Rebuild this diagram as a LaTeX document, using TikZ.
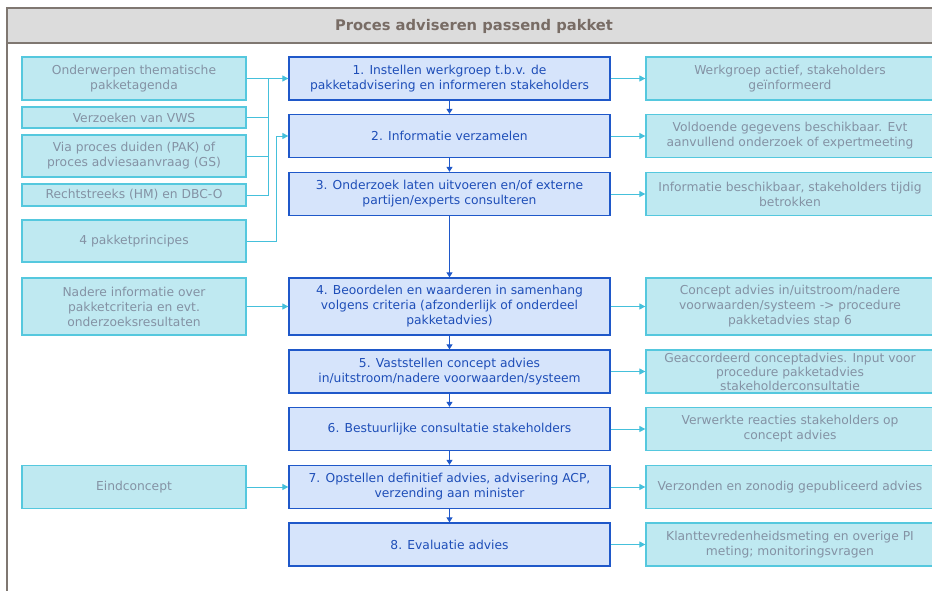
\documentclass[tikz,border=0pt]{standalone}
\usepackage{fontspec}
\setmainfont{DejaVu Sans}
\usetikzlibrary{arrows.meta, positioning}
\definecolor{stapvul}{HTML}{D6E4FB}
\definecolor{staprand}{HTML}{1F58C9}
\definecolor{staptekst}{HTML}{1E4EB8}
\definecolor{zijvul}{HTML}{BFE9F1}
\definecolor{zijrand}{HTML}{55C8DE}
\definecolor{zijtekst}{HTML}{8492A4}
\definecolor{zijpijl}{HTML}{45C0DB}
\definecolor{kopvul}{HTML}{DCDCDC}
\definecolor{koprand}{HTML}{7F7771}
\definecolor{koptekst}{HTML}{786C65}
\tikzset{
  tekst/.style={font=\fontsize{12.3}{15}\selectfont},
  stap/.style={tekst, draw=staprand, fill=stapvul, text=staptekst, line width=1.3pt,
    minimum width=321pt, minimum height=43pt, inner sep=1pt, align=center},
  bron/.style={tekst, draw=zijrand, fill=zijvul, text=zijtekst, line width=1.3pt,
    minimum width=224pt, minimum height=43pt, inner sep=1pt, align=center},
  uit/.style={bron, minimum width=288pt},
  lijn/.style={draw=zijpijl, line width=1pt},
  pijl/.style={lijn, arrows={-Triangle[length=6pt,width=6pt]}},
  stappijl/.style={draw=staprand, line width=1pt, arrows={-Triangle[length=5pt,width=6pt]}}
}
\begin{document}
\begin{tikzpicture}[x=1pt, y=-1pt]
  \useasboundingbox (0,0) rectangle (932,590);
  \clip (0,0) rectangle (932,590);
  % kopbalk
  \fill[kopvul] (7,8) rectangle (940,43);
  \draw[koprand, line width=1.2pt] (940,8) -- (7,8) -- (7,595);
  \draw[koprand, line width=1.2pt] (7,43) -- (940,43);
  \node[font=\fontsize{14.7}{17}\selectfont\bfseries, text=koptekst] (titel) at (474,26) {Proces adviseren passend pakket};

  % processtappen
  \node[stap] (stap1) at (449.5,78.5) {1. Instellen werkgroep t.b.v. de\\pakketadvisering en informeren stakeholders};
  \node[stap] (stap2) at (449.5,136) {2. Informatie verzamelen};
  \node[stap] (stap3) at (449.5,194) {3. Onderzoek laten uitvoeren en/of externe\\partijen/experts consulteren};
  \node[stap, minimum height=57pt] (stap4) at (449.5,306.5) {4. Beoordelen en waarderen in samenhang\\volgens criteria (afzonderlijk of onderdeel\\pakketadvies)};
  \node[stap] (stap5) at (449.5,371.5) {5. Vaststellen concept advies\\in/uitstroom/nadere voorwaarden/systeem};
  \node[stap] (stap6) at (449.5,429) {6. Bestuurlijke consultatie stakeholders};
  \node[stap] (stap7) at (449.5,487) {7. Opstellen definitief advies, advisering ACP,\\verzending aan minister};
  \node[stap] (stap8) at (449.5,544.5) {8. Evaluatie advies};

  % invoer links
  \node[bron] (bron1) at (134,78.5) {Onderwerpen thematische\\pakketagenda};
  \node[bron, minimum height=21pt] (bron2) at (134,117.5) {Verzoeken van VWS};
  \node[bron, minimum height=42pt] (bron3) at (134,156) {Via proces duiden (PAK) of\\proces adviesaanvraag (GS)};
  \node[bron, minimum height=22pt] (bron4) at (134,195) {Rechtstreeks (HM) en DBC-O};
  \node[bron, minimum height=42pt] (bron5) at (134,241) {4 pakketprincipes};
  \node[bron, minimum height=57pt] (bron6) at (134,306.5) {Nadere informatie over\\pakketcriteria en evt.\\onderzoeksresultaten};
  \node[bron] (bron7) at (134,487) {Eindconcept};

  % resultaten rechts
  \node[uit] (uit1) at (790,78.5) {Werkgroep actief, stakeholders\\geïnformeerd};
  \node[uit] (uit2) at (790,136) {Voldoende gegevens beschikbaar. Evt\\aanvullend onderzoek of expertmeeting};
  \node[uit] (uit3) at (790,194) {Informatie beschikbaar, stakeholders tijdig\\betrokken};
  \node[uit, minimum height=57pt] (uit4) at (790,306.5) {Concept advies in/uitstroom/nadere\\voorwaarden/systeem -> procedure\\pakketadvies stap 6};
  \node[uit, font=\fontsize{12.3}{14}\selectfont] (uit5) at (790,371.5) {Geaccordeerd conceptadvies. Input voor\\procedure pakketadvies\\stakeholderconsultatie};
  \node[uit] (uit6) at (790,429) {Verwerkte reacties stakeholders op\\concept advies};
  \node[uit] (uit7) at (790,487) {Verzonden en zonodig gepubliceerd advies};
  \node[uit] (uit8) at (790,544.5) {Klanttevredenheidsmeting en overige PI\\meting; monitoringsvragen};

  % verbindingen
  \coordinate (knik1) at (268,78.5);
  \coordinate (knik2) at (276,136);
  \draw[pijl] (bron1.east) -- (stap1.west);
  \foreach \n in {2,3,4}
    \draw[lijn] (bron\n.east) -| (knik1);
  \draw[pijl] (bron5.east) -| (knik2) -- (stap2.west);
  \draw[pijl] (bron6.east) -- (stap4.west);
  \draw[pijl] (bron7.east) -- (stap7.west);
  \foreach \n in {1,...,8}
    \draw[pijl] (stap\n.east) -- (uit\n.west);
  \foreach \n/\m in {1/2,2/3,3/4,4/5,5/6,6/7,7/8}
    \draw[stappijl] (stap\n.south) -- (stap\m.north);
\end{tikzpicture}
\end{document}
